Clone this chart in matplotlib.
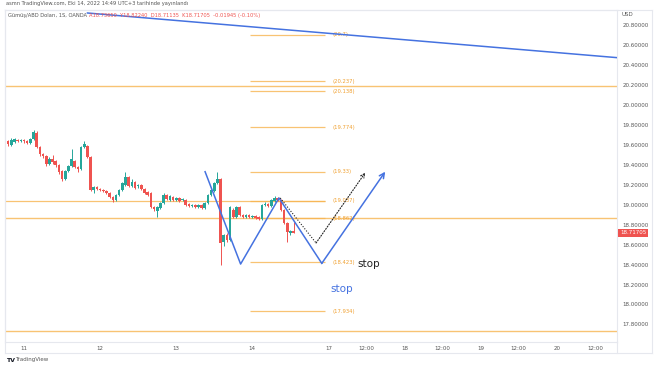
import matplotlib.pyplot as plt
from matplotlib.lines import Line2D

# hourly candles, first one is Oct 10 18:00 (index -6), index 0 = Oct 11 00:00
first_idx = -6
opens = [19.58, 19.64, 19.60, 19.63, 19.65, 19.64, 19.65, 19.64, 19.62, 19.66,
         19.72, 19.58, 19.51, 19.49, 19.41, 19.46, 19.44, 19.40, 19.34, 19.26,
         19.34, 19.39, 19.44, 19.38, 19.36, 19.58, 19.59, 19.48, 19.15, 19.18,
         19.16, 19.15, 19.14, 19.12, 19.08, 19.05, 19.10, 19.15, 19.20, 19.28,
         19.19, 19.23, 19.19, 19.20, 19.16, 19.13, 19.12, 18.98, 18.94, 18.97,
         19.02, 19.10, 19.05, 19.08, 19.05, 19.07, 19.05, 19.05, 19.01, 18.99,
         19.00, 18.98, 19.00, 18.97, 19.02, 19.10, 19.14, 19.22, 19.26, 18.63,
         18.70, 18.65, 18.95, 18.88, 18.98, 18.90, 18.88, 18.90, 18.88, 18.89,
         18.88, 18.86, 19.00, 19.01, 18.99, 19.04, 19.07, 19.05, 18.95, 18.82,
         18.72, 18.7365]
closes = [19.64, 19.61, 19.65, 19.66, 19.64, 19.65, 19.64, 19.62, 19.66, 19.73,
          19.58, 19.51, 19.49, 19.41, 19.46, 19.43, 19.40, 19.33, 19.26, 19.34,
          19.39, 19.46, 19.38, 19.36, 19.58, 19.61, 19.48, 19.15, 19.18, 19.16,
          19.15, 19.14, 19.12, 19.08, 19.05, 19.10, 19.15, 19.22, 19.28, 19.19,
          19.23, 19.17, 19.20, 19.16, 19.12, 19.10, 18.98, 18.96, 18.98, 19.02,
          19.10, 19.06, 19.09, 19.05, 19.07, 19.04, 19.05, 19.00, 18.99, 19.00,
          18.98, 19.00, 18.97, 19.02, 19.10, 19.15, 19.22, 19.26, 18.62, 18.70,
          18.65, 18.98, 18.88, 18.98, 18.90, 18.88, 18.90, 18.88, 18.89, 18.87,
          18.86, 19.00, 19.01, 18.99, 19.05, 19.07, 19.05, 18.95, 18.82, 18.73,
          18.74, 18.71705]
highs = [19.66, 19.65, 19.67, 19.67, 19.66, 19.66, 19.66, 19.65, 19.67, 19.75,
         19.74, 19.59, 19.52, 19.50, 19.48, 19.50, 19.45, 19.41, 19.35, 19.35,
         19.40, 19.56, 19.45, 19.39, 19.59, 19.64, 19.60, 19.49, 19.19, 19.19,
         19.17, 19.16, 19.15, 19.13, 19.09, 19.11, 19.16, 19.23, 19.33, 19.29,
         19.26, 19.24, 19.21, 19.21, 19.17, 19.14, 19.13, 18.99, 18.99, 19.03,
         19.12, 19.11, 19.10, 19.09, 19.08, 19.08, 19.07, 19.06, 19.02, 19.01,
         19.01, 19.01, 19.01, 19.03, 19.11, 19.16, 19.23, 19.33, 19.27, 18.71,
         18.72, 18.99, 18.97, 18.99, 18.99, 18.91, 18.91, 18.91, 18.90, 18.90,
         18.89, 19.01, 19.03, 19.02, 19.06, 19.09, 19.08, 19.06, 18.96, 18.83,
         18.75, 18.8224]
lows = [19.56, 19.59, 19.59, 19.62, 19.63, 19.63, 19.62, 19.61, 19.61, 19.65,
        19.57, 19.49, 19.47, 19.39, 19.40, 19.41, 19.38, 19.31, 19.24, 19.25,
        19.33, 19.38, 19.37, 19.33, 19.35, 19.57, 19.47, 19.14, 19.12, 19.15,
        19.14, 19.13, 19.11, 19.07, 19.03, 19.04, 19.09, 19.14, 19.19, 19.18,
        19.18, 19.16, 19.17, 19.15, 19.11, 19.09, 18.97, 18.94, 18.88, 18.96,
        19.01, 19.05, 19.04, 19.04, 19.04, 19.03, 19.04, 18.99, 18.98, 18.98,
        18.97, 18.97, 18.96, 18.96, 19.01, 19.09, 19.13, 19.21, 18.40, 18.59,
        18.63, 18.64, 18.87, 18.87, 18.89, 18.87, 18.87, 18.87, 18.87, 18.86,
        18.85, 18.85, 18.99, 18.98, 18.98, 19.03, 19.04, 18.94, 18.81, 18.63,
        18.70, 18.71135]

fib_levels = [20.7, 20.237, 20.138, 19.774, 19.33, 19.037, 18.862, 18.423, 17.934]
fib_labels = ["(20.7)", "(20.237)", "(20.138)", "(19.774)", "(19.33)", "(19.037)",
              "(18.862)", "(18.423)", "(17.934)"]
full_lines = [20.19, 18.862, 17.73]

trend_x = [20, 188]
trend_y = [20.92, 20.47]
zig_x = [57.1, 68.3, 80.4, 93.9, 113.9]
zig_y = [19.33, 18.405, 19.067, 18.412, 19.33]
dot_x = [80.8, 92.1, 107.6]
dot_y = [19.067, 18.616, 19.32]

tick_pos = [0, 24, 48, 72, 96, 108, 120, 132, 144, 156, 168, 180]
tick_lab = ["11", "12", "13", "14", "17", "12:00", "18", "12:00", "19", "12:00", "20", "12:00"]
price_ticks = [17.8, 18.0, 18.2, 18.4, 18.6, 18.8, 19.0, 19.2, 19.4, 19.6, 19.8, 20.0,
               20.2, 20.4, 20.6, 20.8]
last_price = 18.71705

GREEN = "#26a69a"
RED = "#ef5350"
ORANGE = "#f7b450"
BLUE = "#4572e0"
GRAY = "#555555"

W, H = 654, 366
fig = plt.figure(figsize=(W / 100, H / 100), dpi=100)
ax = fig.add_axes([5 / W, 24 / H, 612 / W, 332 / H])
ax.set_xlim(-6.0, 187)
ax.set_ylim(17.624, 20.95)

# candles
for k in range(len(opens)):
    i = first_idx + k
    o, c = opens[k], closes[k]
    col = GREEN if c >= o else RED
    ax.vlines(i, lows[k], highs[k], color=col, lw=0.7, zorder=3)
    ax.bar(i, max(abs(c - o), 0.005), bottom=min(o, c), width=0.82, color=col,
           lw=0, zorder=4)

# horizontal levels
for y in full_lines:
    ax.axhline(y, color=ORANGE, lw=1.0, alpha=0.8, zorder=2)
ax.hlines(19.037, -6, 95, color=ORANGE, lw=0.9, alpha=0.8, zorder=2)
for y, lab in zip(fib_levels, fib_labels):
    ax.hlines(y, 71.3, 95, color=ORANGE, lw=0.9, alpha=0.8, zorder=2)
    ax.text(97.2, y, lab, color="#f0a030", fontsize=3.8, va="center", ha="left")

# trend line and patterns
ax.plot(trend_x, trend_y, color=BLUE, lw=1.1, zorder=5)
ax.plot(zig_x[:-1], zig_y[:-1], color=BLUE, lw=1.1, zorder=5)
ax.annotate("", xy=(zig_x[-1], zig_y[-1]), xytext=(zig_x[-2], zig_y[-2]),
            arrowprops=dict(arrowstyle="->", color=BLUE, lw=1.1,
                            shrinkA=0, shrinkB=0, mutation_scale=9), zorder=5)
ax.plot(dot_x[:-1], dot_y[:-1], color="#222222", lw=0.8, ls=(0, (1, 1.5)), zorder=5)
ax.annotate("", xy=(dot_x[-1], dot_y[-1]), xytext=(dot_x[-2], dot_y[-2]),
            arrowprops=dict(arrowstyle="->", color="#222222", lw=0.8, ls=(0, (1, 1.5)),
                            shrinkA=0, shrinkB=0, mutation_scale=7), zorder=5)

ax.text(105.2, 18.41, "stop", color="#222222", fontsize=7.5, va="center", ha="left")
ax.text(96.7, 18.155, "stop", color=BLUE, fontsize=7.5, va="center", ha="left")

# axes styling
for s in ax.spines.values():
    s.set_color("#e6e8ee")
    s.set_linewidth(0.8)
ax.yaxis.tick_right()
ax.set_yticks(price_ticks)
ax.set_yticklabels([f"{p:.5f}" for p in price_ticks])
ax.set_xticks(tick_pos)
ax.set_xticklabels(tick_lab)
ax.tick_params(axis="both", length=0, labelsize=4.0, labelcolor=GRAY)
ax.tick_params(axis="y", pad=4)
ax.tick_params(axis="x", pad=3)

ax.text(1.005, last_price, "18.71705", transform=ax.get_yaxis_transform(),
        fontsize=4.0, color="white", va="center", ha="left",
        bbox=dict(boxstyle="square,pad=0.3", fc=RED, ec="none"))
ax.text(1.007, 20.905, "USD", transform=ax.get_yaxis_transform(),
        fontsize=4.0, color=GRAY, va="center", ha="left")

# outer frame lines
fig.add_artist(Line2D([5 / W, 652 / W], [1 - 353 / H, 1 - 353 / H], color="#e6e8ee", lw=0.8))
fig.add_artist(Line2D([652 / W, 652 / W], [1 - 353 / H, 1 - 10 / H], color="#e6e8ee", lw=0.8))
fig.add_artist(Line2D([5 / W, 652 / W], [1 - 10 / H, 1 - 10 / H], color="#e6e8ee", lw=0.8))
fig.add_artist(Line2D([5 / W, 5 / W], [1 - 353 / H, 1 - 10 / H], color="#e6e8ee", lw=0.8))
fig.add_artist(Line2D([617 / W, 617 / W], [1 - 353 / H, 1 - 342 / H], color="#e6e8ee", lw=0.8))

# header and footer
fig.text(6 / W, 1 - 4 / H, "asmn TradingView.com, Eki 14, 2022 14:49 UTC+3 tarihinde yayınlandı",
         fontsize=3.7, color=GRAY, va="center", ha="left")
fig.text(8 / W, 1 - 15 / H, "Gümüş/ABD Doları, 1S, OANDA", fontsize=3.7, color=GRAY,
         va="center", ha="left")
fig.text(89 / W, 1 - 15 / H, "A18.73650  Y18.82240  D18.71135  K18.71705  -0.01945 (-0.10%)",
         fontsize=3.7, color=RED, va="center", ha="left")
fig.text(6 / W, 1 - 360 / H, "TV", fontsize=4.5, color="#131722", weight="bold",
         va="center", ha="left")
fig.text(15 / W, 1 - 360 / H, "TradingView", fontsize=4.0, color=GRAY, va="center", ha="left")

fig.savefig("out.png", dpi=100)
